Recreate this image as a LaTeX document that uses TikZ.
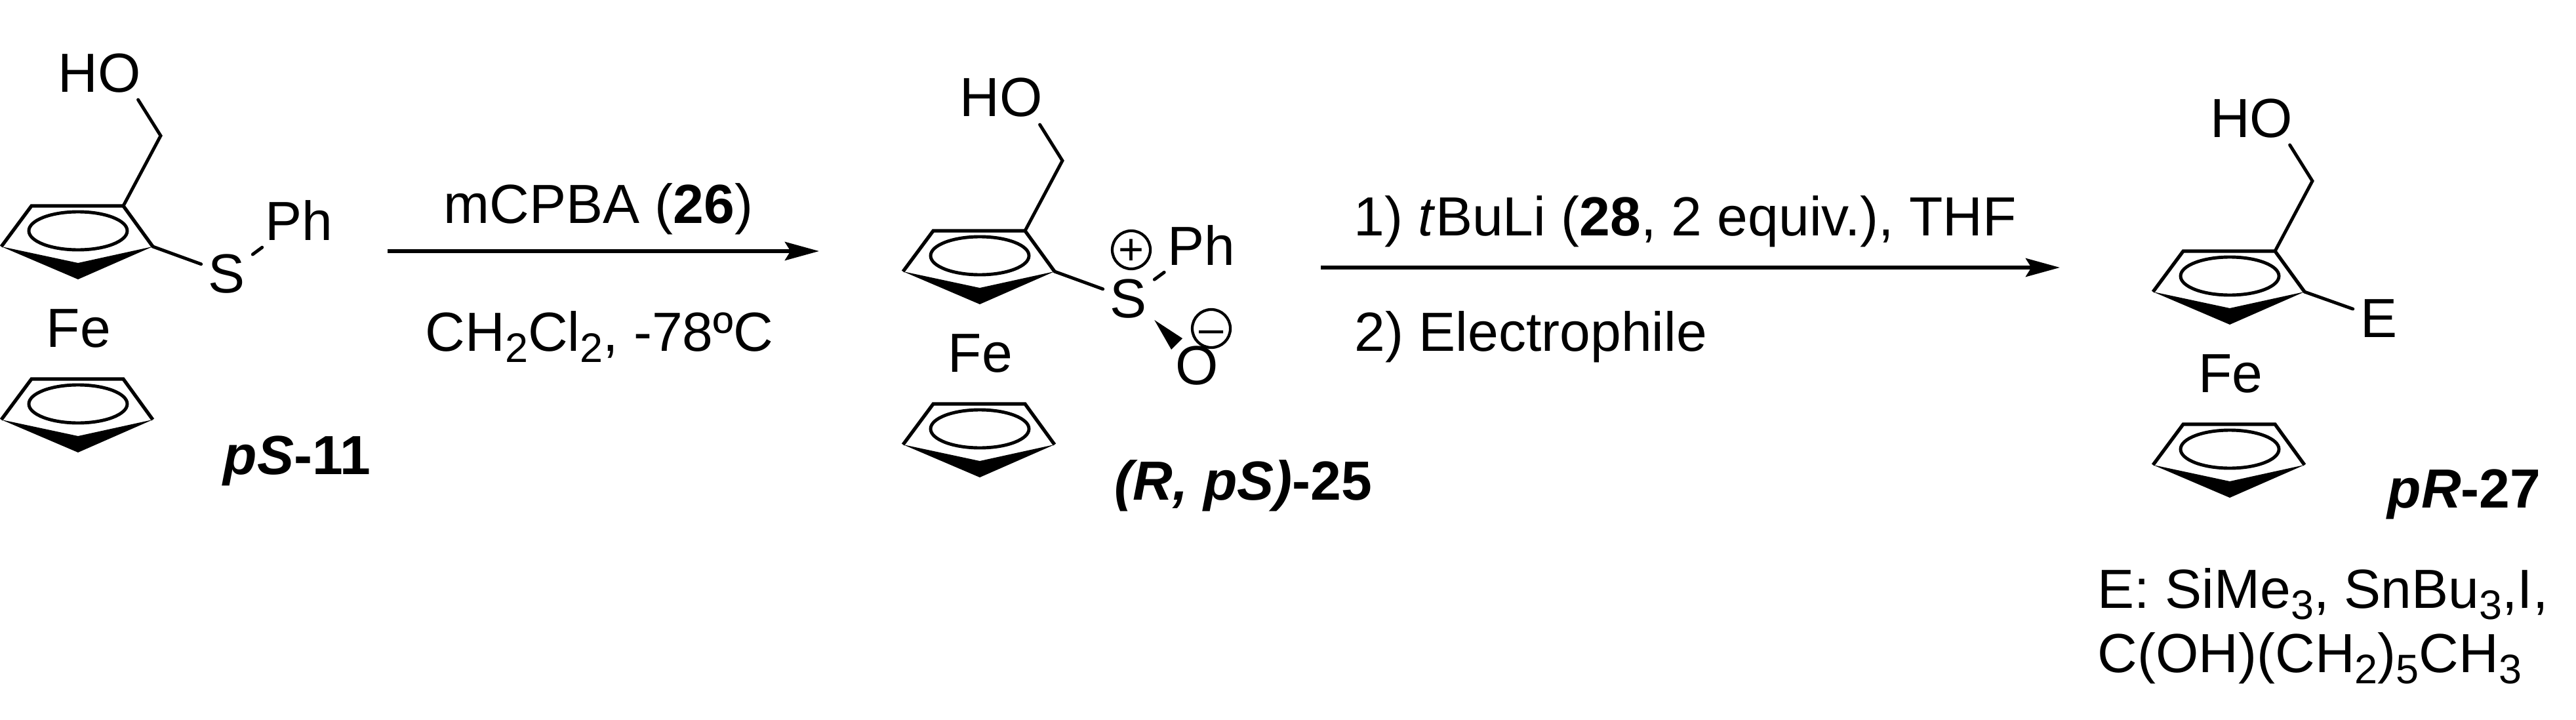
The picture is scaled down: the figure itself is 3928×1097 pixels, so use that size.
\documentclass[tikz,border=0pt]{standalone}
\usepackage{fontspec}
\setmainfont{Liberation Sans}
\usepackage{tikz}
\usetikzlibrary{arrows.meta}
\newcommand{\indice}[1]{\raisebox{-0.17cm}{\fontsize{17.9}{20}\selectfont #1}}
\newcommand{\signe}[1]{\smash{\raisebox{-0.33em}{#1}}}
\tikzset{
    liaison/.style={line width=1.4pt, line cap=round},
    noyau/.style={line width=1.5pt, line join=miter},
    anneau/.style={line width=1.4pt},
    atome/.style={anchor=base, inner sep=3pt},
    texte/.style={anchor=base west, inner sep=0pt},
    charge/.style={circle, draw, line width=1.2pt, inner sep=0pt, minimum size=0.58cm, font=\fontsize{19}{20}\selectfont},
    fleche/.style={-{Stealth[length=5.2mm, width=2.8mm, inset=0.85mm]}, line width=1.7pt},
    ferrocene/.pic={
        % Deux cycles Cp
        \foreach \yc in {0,264} {
            \fill (-117,\yc) -- (0,\yc+50) -- (114,\yc) -- (0,\yc+25) -- cycle;
            \draw[noyau] (-117,\yc) -- (-71,\yc-62) -- (69,\yc-62) -- (114,\yc);
            \draw[anneau] (0,\yc-24) ellipse [x radius=75, y radius=29];
        }
        \coordinate (-tr) at (69,-62);
        \coordinate (-r) at (114,0);
        \coordinate (-ch) at (126,-169);
        \node[atome] (-ho) at (33,-236) {HO};
        \node[atome] (-fe) at (1,153) {Fe};
        \draw[liaison, line join=miter] (-tr) -- (-ch) -- (-ho.-35);
    },
}
\begin{document}
\begin{tikzpicture}[x=0.01cm, y=-0.01cm, font=\fontsize{23.9}{28}\selectfont]
\useasboundingbox (0,0) rectangle (3928,1097);
% Composé 11
\begin{scope}[shift={(119,376)}]
\pic (a) at (0,0) {ferrocene};
\node[atome] (a-s) at (227,70) {S};
\node[atome] (a-ph) at (337,-10) {Ph};
\draw[liaison] (a-r) -- (a-s);
\draw[liaison] (a-s) -- (a-ph);
\end{scope}
\node[texte] (nom-a) at (340,723) {\textbf{\textit{pS}-11}};
% Réaction 1
\coordinate (dep1) at (591,383);
\coordinate (arr1) at (1249,383);
\draw[fleche] (dep1) -- (arr1);
\node[texte] (mcpba) at (676,340) {mCPBA (\textbf{26})};
\node[texte] (solv) at (648,535) {CH\indice{2}Cl\indice{2}, -78ºC};
% Composé 25
\begin{scope}[shift={(1494,414)}]
\pic (b) at (0,0) {ferrocene};
\node[atome] (b-s) at (227,70) {S};
\node[atome] (b-ph) at (338,-10) {Ph};
\node[atome] (b-o) at (331,172) {O};
\node[charge] (b-plus) at (231,-33) {\signe{+}};
\node[charge] (b-moins) at (353,87) {\signe{–}};
\coordinate (b-c1) at (309,102);
\coordinate (b-c2) at (292,119);
\draw[liaison] (b-r) -- (b-s);
\draw[liaison] (b-s) -- (b-ph);
\fill (b-s.-40) -- (b-c1) -- (b-c2) -- cycle;
\end{scope}
\node[texte] (nom-b) at (1699,762) {\textbf{\textit{(R, pS)}-25}};
% Réaction 2
\coordinate (dep2) at (2014,408);
\coordinate (arr2) at (3141,408);
\draw[fleche] (dep2) -- (arr2);
\node[texte] (tbuli) at (2064,359) {1) \textit{t}BuLi (\textbf{28}, 2 equiv.), THF};
\node[texte] (elec) at (2065,535) {2) Electrophile};
% Composé 27
\begin{scope}[shift={(3400,445)}]
\pic (c) at (0,0) {ferrocene};
\node[atome] (c-e) at (227,69) {E};
\draw[liaison] (c-r) -- (c-e);
\end{scope}
\node[texte] (nom-c) at (3640,774) {\textbf{\textit{pR}-27}};
\node[texte] (liste1) at (3198,927) {E: SiMe\indice{3}, SnBu\indice{3},I,};
\node[texte] (liste2) at (3198,1025) {C(OH)(CH\indice{2})\indice{5}CH\indice{3}};
\end{tikzpicture}
\end{document}
